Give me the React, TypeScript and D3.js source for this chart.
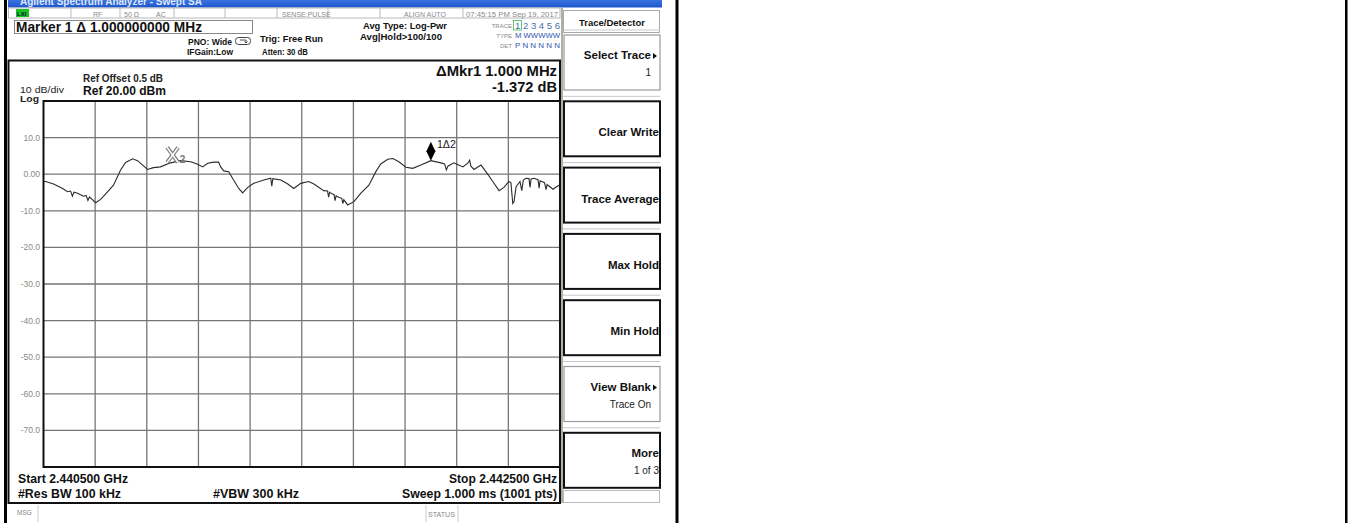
import React from "react";
import * as d3 from "d3";

// sweep settings
const startMHz = 2440.5;
const stopMHz = 2442.5;
const refLevel = 20;
const bottomLevel = -80;

// trace 1
const traceFreqMHz = [
  2440.5, 2440.508, 2440.539, 2440.574, 2440.593, 2440.605, 2440.612, 2440.618, 2440.632, 2440.655,
  2440.665, 2440.672, 2440.678, 2440.702, 2440.721, 2440.748, 2440.771, 2440.798, 2440.818, 2440.845,
  2440.864, 2440.884, 2440.903, 2440.926, 2440.953, 2440.992, 2441.031, 2441.07, 2441.097, 2441.116,
  2441.136, 2441.159, 2441.178, 2441.186, 2441.198, 2441.217, 2441.236, 2441.256, 2441.271, 2441.291,
  2441.314, 2441.353, 2441.38, 2441.384, 2441.388, 2441.419, 2441.446, 2441.469, 2441.496, 2441.527,
  2441.547, 2441.585, 2441.6, 2441.604, 2441.608, 2441.612, 2441.625, 2441.629, 2441.633, 2441.643,
  2441.655, 2441.659, 2441.663, 2441.678, 2441.702, 2441.729, 2441.76, 2441.787, 2441.806, 2441.833,
  2441.853, 2441.876, 2441.903, 2441.93, 2441.961, 2442.0, 2442.039, 2442.053, 2442.06, 2442.066,
  2442.089, 2442.105, 2442.124, 2442.143, 2442.15, 2442.155, 2442.167, 2442.194, 2442.213, 2442.24,
  2442.264, 2442.283, 2442.302, 2442.31, 2442.317, 2442.322, 2442.33, 2442.345, 2442.352, 2442.358,
  2442.368, 2442.38, 2442.384, 2442.388, 2442.399, 2442.415, 2442.419, 2442.423, 2442.44, 2442.446,
  2442.45, 2442.473, 2442.485, 2442.496, 2442.5,
];
const traceLevelDb = [
  -2.0, -2.0, -2.7, -3.9, -4.8, -4.6, -6.0, -4.9, -5.2, -6.0,
  -5.8, -7.2, -6.2, -7.8, -6.9, -4.8, -3.0, 1.1, 3.2, 4.2,
  3.7, 2.5, 1.3, 1.8, 2.0, 3.1, 3.7, 3.4, 2.7, 2.0,
  3.0, 3.3, 3.3, 2.0, 0.9, 0.7, -1.6, -3.9, -5.1, -3.6,
  -2.5, -1.6, -1.1, -3.3, -1.2, -1.6, -2.7, -3.9, -2.5, -2.0,
  -2.7, -4.5, -4.6, -6.3, -4.9, -5.1, -5.6, -7.2, -5.9, -6.3,
  -6.6, -8.0, -7.0, -8.4, -7.5, -5.2, -3.0, 0.7, 2.8, 4.1,
  4.3, 3.4, 1.9, 1.6, 2.5, 3.7, 3.1, 2.8, 1.2, 2.2,
  3.1, 2.6, 2.0, 3.0, 3.8, 2.2, 1.3, 2.5, 0.7, -2.0,
  -4.5, -3.6, -2.0, -2.3, -8.0, -7.5, -3.4, -2.0, -4.5, -1.6,
  -1.1, -1.2, -3.6, -1.3, -1.1, -1.5, -3.8, -1.8, -2.3, -4.2,
  -2.8, -4.1, -3.5, -3.0, -3.0,
];

const yTickValues = [10, 0, -10, -20, -30, -40, -50, -60, -70];
const yTickLabels = ["10.0", "0.00", "-10.0", "-20.0", "-30.0", "-40.0", "-50.0", "-60.0", "-70.0"];

const marker2FreqMHz = 2441.0;
const marker1FreqMHz = 2442.0;

const statusTexts = ["RF", "50 Ω", "AC", "SENSE:PULSE", "ALIGN AUTO", "07:45:15 PM Sep 19, 2017"];
const statusTextX = [93, 124, 156, 282, 404, 466];
const statusDividers = [71, 120, 174, 225, 277, 328, 380, 463];

const softkeyLabels = ["Select Trace", "Clear Write", "Trace Average", "Max Hold", "Min Hold", "View Blank", "More"];
const softkeySubs = ["1", "", "", "", "", "Trace On", "1 of 3"];
const softkeyArrow = [true, false, false, false, false, true, false];
const softkeyDark = [false, true, true, true, true, false, true];

const FONT = "'Liberation Sans', Arial, sans-serif";

const T = ({ x, y, size, bold = false, anchor = "start", fill = "#111", len, children }: any) => (
  <text
    x={x}
    y={y}
    fontSize={size}
    fontWeight={bold ? "bold" : "normal"}
    textAnchor={anchor}
    fill={fill}
    fontFamily={FONT}
    textLength={len}
    lengthAdjust={len ? "spacingAndGlyphs" : undefined}
  >
    {children}
  </text>
);

const App = () => {
  const gx0 = 43.5, gx1 = 560, gy0 = 101, gy1 = 467;
  const x = d3.scaleLinear().domain([startMHz, stopMHz]).range([gx0, gx1]);
  const y = d3.scaleLinear().domain([bottomLevel, refLevel]).range([gy1, gy0]);

  const line = d3
    .line<number>()
    .x((d, i) => x(traceFreqMHz[i]))
    .y((d) => y(d));

  const levelAt = (f: number) => {
    const i = Math.max(1, d3.bisectLeft(traceFreqMHz, f));
    const f0 = traceFreqMHz[i - 1], f1 = traceFreqMHz[i];
    const t = (f - f0) / (f1 - f0);
    return traceLevelDb[i - 1] + t * (traceLevelDb[i] - traceLevelDb[i - 1]);
  };

  const xGrid = d3.range(11).map((i) => startMHz + (i * (stopMHz - startMHz)) / 10);
  const yGrid = d3.range(bottomLevel, refLevel + 1, 10);

  const m2x = x(marker2FreqMHz), m2y = y(levelAt(marker2FreqMHz));
  const m1x = x(marker1FreqMHz), m1y = y(levelAt(marker1FreqMHz));

  const keyTop = (i: number) => 35 + i * 66.3;

  return (
    <svg
      width={1349}
      height={523}
      style={{ position: "absolute", left: 0, top: 0, background: "#fff" }}
    >
      <defs>
        <clipPath id="grat">
          <rect x={gx0} y={gy0} width={gx1 - gx0} height={gy1 - gy0} />
        </clipPath>
        <linearGradient id="titlebar" x1="0" x2="0" y1="0" y2="1">
          <stop offset="0" stopColor="#3a74e0" />
          <stop offset="1" stopColor="#1f56cc" />
        </linearGradient>
      </defs>

      {/* title bar */}
      <rect x={8} y={0} width={654} height={7.5} fill="url(#titlebar)" />
      <T x={20} y={4.5} size={10} bold fill="#dfe8fb">Agilent Spectrum Analyzer - Swept SA</T>

      {/* status row */}
      <rect x={8.5} y={8} width={551.5} height={10} fill="#fff" stroke="#b8b8b8" strokeWidth={1} />
      <rect x={16} y={9} width={13} height={8} fill="#19c21f" />
      <T x={17} y={15.5} size={6} bold fill="#114">LXI</T>
      {statusDividers.map((d) => (
        <line key={d} x1={d} x2={d} y1={8} y2={18} stroke="#bbb" />
      ))}
      {statusTexts.map((s, i) => (
        <T key={s} x={statusTextX[i]} y={16.5} size={7} fill="#8a8a8a" len={i === 5 ? 92 : undefined}>{s}</T>
      ))}

      {/* marker readout box */}
      <rect x={14.5} y={20.5} width={238} height={13} fill="#fff" stroke="#888" />
      <T x={16} y={32} size={14} bold len={186}>Marker 1 Δ 1.000000000 MHz</T>

      <T x={188} y={45} size={8.5} bold len={44}>PNO: Wide</T>
      <rect x={235.5} y={37.5} width={15} height={7} rx={3} fill="#fff" stroke="#444" />
      <path d="M240,40 L246,40 L246,42.5 M244.5,41.5 L246,43 L247.5,41.5" fill="none" stroke="#222" strokeWidth={0.8} />
      <T x={187} y={55} size={8.5} bold len={46}>IFGain:Low</T>
      <T x={260} y={41.5} size={9.5} bold len={63}>Trig: Free Run</T>
      <T x={262} y={55} size={9} bold len={46}>Atten: 30 dB</T>
      <T x={363} y={29} size={9.5} bold len={84}>Avg Type: Log-Pwr</T>
      <T x={360} y={40} size={9} bold len={82}>Avg|Hold&gt;100/100</T>

      <T x={512} y={28} size={6} anchor="end" fill="#888">TRACE</T>
      <rect x={513.5} y={20.5} width={8} height={9.5} fill="none" stroke="#3cb84f" strokeWidth={0.8} />
      <T x={515} y={28.5} size={8.5} fill="#4a6ea8" len={45}>1 2 3 4 5 6</T>
      <T x={512} y={38} size={6} anchor="end" fill="#888">TYPE</T>
      <T x={515} y={38} size={7} fill="#2f55b0" len={45}>M WWWWW</T>
      <T x={512} y={47.5} size={6} anchor="end" fill="#888">DET</T>
      <T x={515} y={48} size={7.5} fill="#2f55b0" len={45}>P N N N N N</T>

      {/* main display box */}
      <rect x={8.5} y={60.5} width={551.5} height={442.5} fill="#fff" stroke="#111" strokeWidth={2} />
      <T x={83} y={81.5} size={10} bold fill="#222" len={80}>Ref Offset 0.5 dB</T>
      <T x={83} y={94.5} size={13} bold len={83}>Ref 20.00 dBm</T>
      <T x={20} y={92.5} size={9.5} fill="#222" len={44}>10 dB/div</T>
      <T x={20} y={101.5} size={9.5} bold fill="#222" len={19}>Log</T>
      <T x={557} y={75.5} size={15.5} bold anchor="end" len={121}>ΔMkr1 1.000 MHz</T>
      <T x={557} y={92} size={15.5} bold anchor="end" len={65}>-1.372 dB</T>

      {/* graticule */}
      {xGrid.slice(1, -1).map((f) => (
        <line key={f} x1={x(f)} x2={x(f)} y1={gy0} y2={gy1} stroke="#767676" strokeWidth={1.3} />
      ))}
      {yGrid.slice(1, -1).map((v) => (
        <line key={v} x1={gx0} x2={gx1} y1={y(v)} y2={y(v)} stroke="#767676" strokeWidth={1.3} />
      ))}
      {yTickValues.map((v, i) => (
        <text key={v} x={40} y={y(v)} dy="0.35em" fontSize={8.5} textAnchor="end" fill="#888" fontFamily={FONT}>
          {yTickLabels[i]}
        </text>
      ))}
      <path d={line(traceLevelDb) || ""} fill="none" stroke="#2b2b2b" strokeWidth={1.1} clipPath="url(#grat)" />
      <rect x={gx0} y={gy0} width={gx1 - gx0} height={gy1 - gy0} fill="none" stroke="#111" strokeWidth={2} />

      {/* markers */}
      <g>
        <line x1={m2x - 5.5} y1={m2y - 15} x2={m2x + 5.5} y2={m2y} stroke="#777" strokeWidth={4} />
        <line x1={m2x + 5.5} y1={m2y - 15} x2={m2x - 5.5} y2={m2y} stroke="#777" strokeWidth={4} />
        <line x1={m2x - 5.5} y1={m2y - 15} x2={m2x + 5.5} y2={m2y} stroke="#fff" strokeWidth={1.6} />
        <line x1={m2x + 5.5} y1={m2y - 15} x2={m2x - 5.5} y2={m2y} stroke="#fff" strokeWidth={1.6} />
        <T x={m2x + 7} y={m2y + 1} size={10} bold fill="#777">2</T>
      </g>
      <path
        d={`M${m1x},${m1y - 19} L${m1x + 4.5},${m1y - 9.5} L${m1x},${m1y} L${m1x - 4.5},${m1y - 9.5} Z`}
        fill="#000"
      />
      <T x={m1x + 6} y={m1y - 13} size={10} fill="#222" len={19}>1Δ2</T>

      {/* bottom annotations */}
      <T x={18} y={483} size={13} bold len={110}>Start 2.440500 GHz</T>
      <T x={18} y={497.5} size={12.5} bold len={103}>#Res BW 100 kHz</T>
      <T x={213} y={497.5} size={12.5} bold len={86}>#VBW 300 kHz</T>
      <T x={557} y={483} size={13} bold anchor="end" len={108}>Stop 2.442500 GHz</T>
      <T x={557} y={497.5} size={12.5} bold anchor="end" len={155}>Sweep  1.000 ms (1001 pts)</T>

      {/* message bar */}
      <line x1={38} x2={38} y1={505} y2={522} stroke="#ccc" />
      <line x1={426} x2={426} y1={505} y2={522} stroke="#ccc" />
      <line x1={458} x2={458} y1={505} y2={522} stroke="#ccc" />
      <T x={17} y={515} size={6.5} fill="#888">MSG</T>
      <T x={428} y={517} size={6.5} fill="#888" len={27}>STATUS</T>

      {/* softkey panel */}
      <line x1={562} x2={562} y1={8} y2={503} stroke="#9b9284" strokeWidth={1.5} />
      <rect x={563.5} y={10.5} width={96} height={22} fill="#fff" stroke="#aaa" />
      <T x={612} y={26} size={9.5} bold anchor="middle" len={66}>Trace/Detector</T>
      {softkeyLabels.map((label, i) => {
        const top = keyTop(i);
        const right = softkeyArrow[i] ? 651 : 659;
        return (
          <g key={label}>
            <line x1={563} x2={660} y1={top - 5} y2={top - 5} stroke="#c8c8c8" />
            <rect
              x={564}
              y={top}
              width={96}
              height={55}
              fill="#fff"
              stroke={softkeyDark[i] ? "#111" : "#9a9a9a"}
              strokeWidth={softkeyDark[i] ? 2 : 1.2}
            />
            <T x={right} y={softkeySubs[i] ? top + 24 : top + 35} size={11.5} bold anchor="end">
              {label}
            </T>
            {softkeySubs[i] && (
              <T x={right} y={top + 41} size={10} anchor="end" fill="#222">
                {softkeySubs[i]}
              </T>
            )}
            {softkeyArrow[i] && (
              <path d={`M${653},${top + 18} L${657},${top + 21} L${653},${top + 24} Z`} fill="#111" />
            )}
          </g>
        );
      })}
      <rect x={563.5} y={490.5} width={96} height={12} fill="#fff" stroke="#bbb" />

      {/* table borders */}
      <rect x={4} y={0} width={3} height={523} fill="#000" />
      <rect x={675.5} y={0} width={3} height={523} fill="#000" />
      <rect x={1345} y={0} width={2.5} height={523} fill="#000" />
    </svg>
  );
};

export default App;
